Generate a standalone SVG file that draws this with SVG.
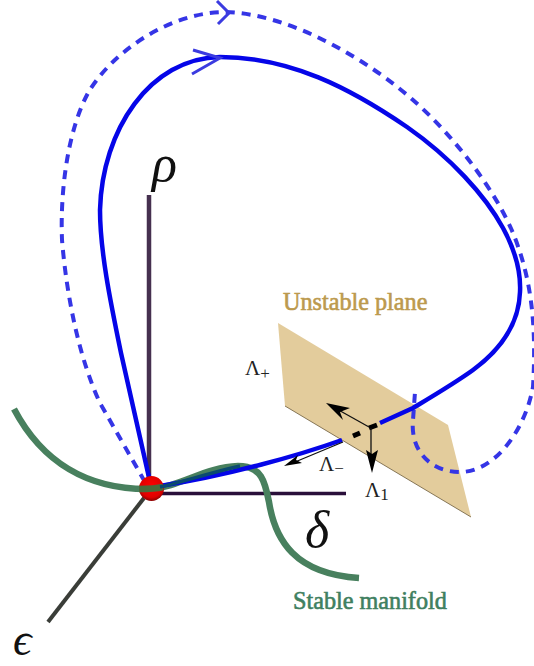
<svg xmlns="http://www.w3.org/2000/svg" width="534" height="666" viewBox="0 0 534 666">
<style>
.axis{fill:none;stroke-linecap:butt}
.solid{fill:none;stroke:#0505e8;stroke-width:4.500}
.dash{fill:none;stroke:#3535e6;stroke-width:4;stroke-dasharray:9 7}
.green{fill:none;stroke:#48805e;stroke-width:6.500}
.thin{fill:none;stroke:#111;stroke-width:1.300}
.head{fill:#000}
.sym{font-family:"Liberation Serif",serif;font-style:italic;fill:#111}
.lam{font-family:"Liberation Serif",serif;fill:#222;font-size:21px}
.sub{font-size:17px}
.lab{font-family:"Liberation Serif",serif;font-size:24.200px;stroke-width:0.600}
.chev{fill:none;stroke:#3b3be0;stroke-width:3}
</style>
<defs>
<radialGradient id="ball" cx="0.5" cy="0.4" r="0.6"><stop offset="0" stop-color="#f00"/><stop offset="0.75" stop-color="#e00000"/><stop offset="1" stop-color="#8a0000"/></radialGradient>
</defs>
<g id="plane"><polygon points="278,323 448,425 471,517 285,406" fill="#e3cc9c"/><path d="M285,406 L471,517" stroke="#6b5a3a" stroke-width="0.800" fill="none"/></g>
<g id="axes">
<path id="axis-rho" class="axis" d="M149,195 V480" stroke="#46304f" stroke-width="4.500"/>
<path id="axis-delta" class="axis" d="M150,493.500 H346" stroke="#2a0f3a" stroke-width="3.500"/>
<path id="axis-eps" class="axis" d="M144,498 L48,622" stroke="#3a3d38" stroke-width="4"/>
</g>
<g id="connectors">
<path class="green" d="M14,409 C42,462 88,490 150,489 C180,487 205,467 238,466 C262,466 265,482 269,502 C275,540 295,574 359,578"/>
<path class="dash" d="M145,482 L100,403 C80,360 67,300 62,240 C60,190 68,130 88,93 C110,55 165,14 222,12 C290,12 370,62 413,100 C455,137 495,190 513,233 C530,275 537,320 533,387 C525,430 495,472 460,472 C430,472 410,450 413,420 L415,392"/>
<path class="solid" d="M150,482 L121,353 C110,300 100,250 100,210 C102,130 150,58 220,57 C290,57 350,88 407,127 C450,157 485,195 503,228 C515,250 521,272 520,292 C519,325 500,350 473,370 C455,383 433,396 413,408 L380,423"/>
<path class="solid" d="M342,440 C300,455 230,475 160,486"/>
<path d="M369,428 L377,425 M353,436 L360,433" fill="none" stroke="#000" stroke-width="5"/>
<path class="chev" d="M193,50 L220,58 L192,74"/>
<path class="chev" d="M217,1 L229,13 L218,24"/>
<path class="thin" d="M369,427 L335,408"/>
<polygon class="head" points="326,403 350,408 340,412 343,420"/>
<path class="thin" d="M371,428 V455"/>
<polygon class="head" points="372,473 366,450 372,454 378,450"/>
<path class="thin" d="M343,442 L295,462"/>
<polygon class="head" points="284,466 298,455 296,460 302,463"/>
</g>
<g id="origin"><circle cx="151.500" cy="488.500" r="12.500" fill="url(#ball)"/>
<path d="M139,489 C145,489 155,489 163,487" stroke="#4a6a3a" stroke-width="6.500" fill="none"/>
<path d="M160,487 C180,483 205,474 240,466" stroke="#0a4a70" stroke-width="3.500" fill="none"/></g>
<g id="labels">
<text class="sym" x="152" y="181" font-size="52">ρ</text>
<text class="sym" x="305" y="547" font-size="52">δ</text>
<text class="sym" x="13" y="655" font-size="46">ϵ</text>
<text class="lab" x="283" y="310" fill="#bc9a4e" stroke="#bc9a4e">Unstable plane</text>
<text class="lab" x="293" y="609" fill="#3f8060" stroke="#3f8060">Stable manifold</text>
<text class="lam" x="245" y="375">Λ<tspan class="sub" dy="4">+</tspan></text>
<text class="lam" x="319" y="471">Λ<tspan class="sub" dy="3">−</tspan></text>
<text class="lam" x="365" y="497">Λ<tspan class="sub" dy="3">1</tspan></text>
</g>
</svg>
